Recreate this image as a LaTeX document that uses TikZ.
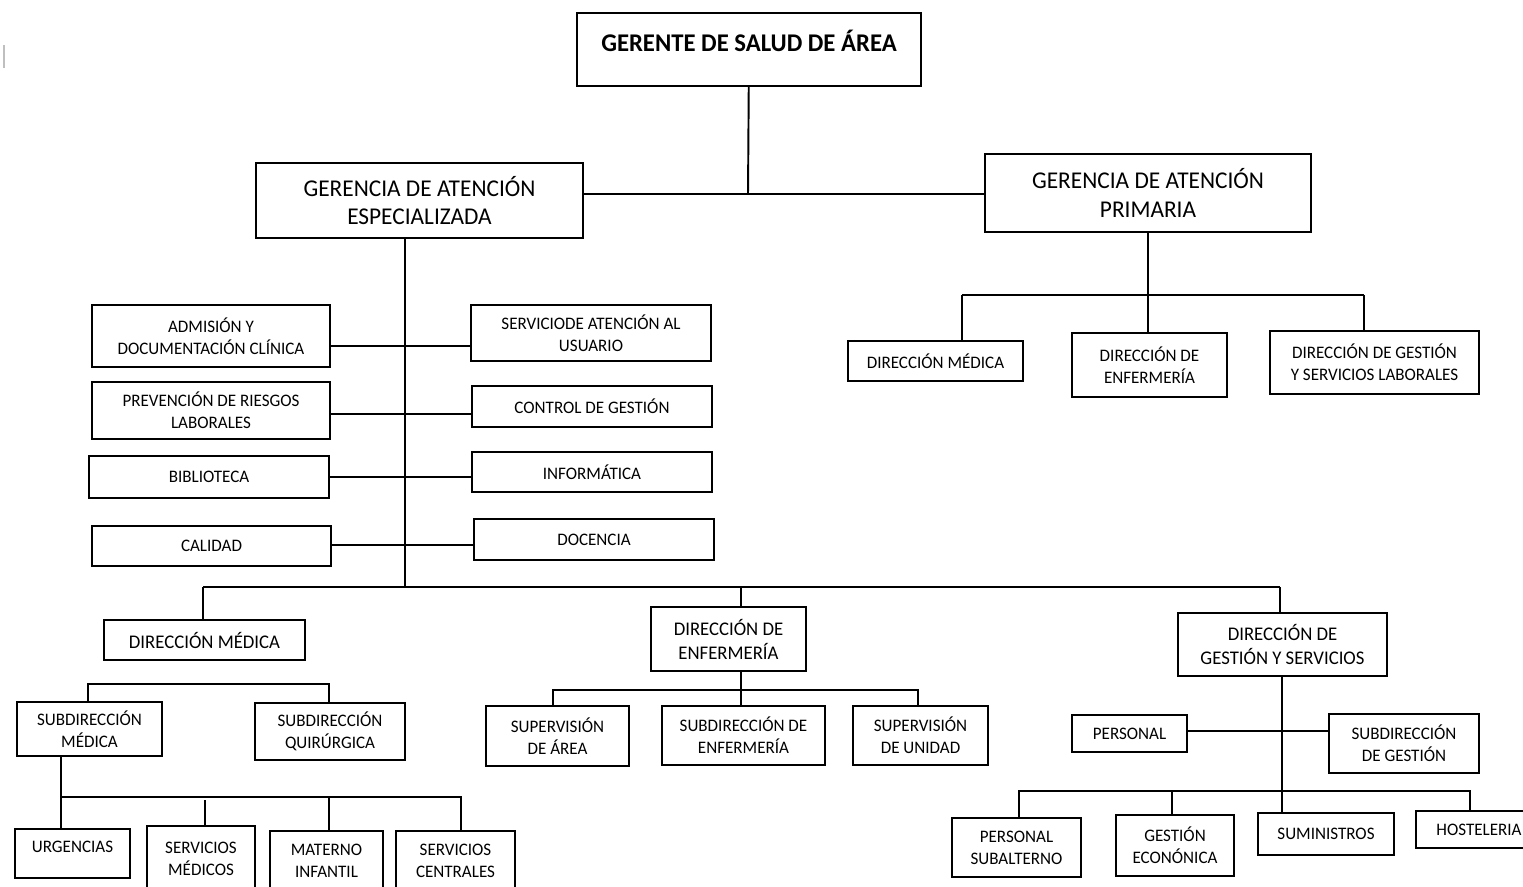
\documentclass[tikz,border=0pt]{standalone}
\usepackage{fontspec}
\setmainfont{Carlito}[FakeStretch=0.97]
\tikzset{
  box/.style={draw, line width=1.1pt, align=center, inner sep=0pt, font=\fontsize{10}{12.5}\selectfont},
  wh/.style 2 args={minimum width=#1*0.02cm, minimum height=#2*0.02cm},
  big/.style={font=\fontsize{13.7}{16.2}\selectfont},
  mid/.style={font=\fontsize{11}{13.6}\selectfont},
  link/.style={line width=1.1pt},
}
\begin{document}
\begin{tikzpicture}[x=0.02cm, y=-0.02cm]
  \useasboundingbox (0,0) rectangle (1523,886);
  \clip (0,0) rectangle (1523,886);
  \draw[black!25, line width=0.6pt] (4,45) -- (4,68);          % stray mark, left edge
  % ---- top levels ----
  \node[box, wh={344}{73}, text depth=0.36cm, font=\fontsize{14.5}{17}\selectfont\bfseries] (ger) at (749,49.5) {GERENTE DE SALUD DE ÁREA};
  \node[box, big, wh={327}{75}] (gae) at (419.5,200.5) {GERENCIA DE ATENCIÓN\\ESPECIALIZADA};
  \node[box, big, wh={326}{78}] (gap) at (1148,193) {GERENCIA DE ATENCIÓN\\PRIMARIA};
  \coordinate (j0) at (748,194);
  \draw[link] (ger) -- (j0);
  \draw[link] (gae.east |- j0) -- (gap.west |- j0);
  % ---- atencion primaria ----
  \node[box, wh={175}{40}] (pdm) at (935.5,361) {DIRECCIÓN MÉDICA};
  \node[box, wh={155}{64}] (pde) at (1149.5,365) {DIRECCIÓN DE\\ENFERMERÍA};
  \node[box, wh={209}{63}] (pgs) at (1374.5,362.5) {DIRECCIÓN DE GESTIÓN\\Y SERVICIOS LABORALES};
  \coordinate (pl) at (962,295);
  \coordinate (pr) at (1364,295);
  \draw[link] (pl) -- (pr);
  \draw[link] (gap.south) -- (gap.south |- pde.north);
  \draw[link] (pl) -- (pl |- pdm.north);
  \draw[link] (pr) -- (pr |- pgs.north);
  % ---- atencion especializada: staff units ----
  \node[box, wh={238}{62}] (adm) at (211,336) {ADMISIÓN Y\\DOCUMENTACIÓN CLÍNICA};
  \node[box, wh={238}{57}] (prv) at (211,410.5) {PREVENCIÓN DE RIESGOS\\LABORALES};
  \node[box, wh={240}{42}] (bib) at (209,477) {BIBLIOTECA};
  \node[box, wh={239}{40}] (cal) at (211.5,546) {CALIDAD};
  \node[box, wh={240}{56}] (srv) at (591,333) {SERVICIODE ATENCIÓN AL\\USUARIO};
  \node[box, wh={240}{41}] (ctl) at (592,406.5) {CONTROL DE GESTIÓN};
  \node[box, wh={240}{40}] (inf) at (592,472) {INFORMÁTICA};
  \node[box, wh={240}{41}] (doc) at (594,539.5) {DOCENCIA};
  \coordinate (et) at (405,587);
  \draw[link] (et |- gae.south) -- (et);
  \foreach \l/\r/\y in {adm/srv/346, prv/ctl/414, bib/inf/477, cal/doc/545}
    \draw[link] (\l.east |- 0,\y) -- (\r.west |- 0,\y);
  % ---- atencion especializada: direcciones ----
  \node[box, mid, wh={201}{40}] (edm) at (204.5,640) {DIRECCIÓN MÉDICA};
  \node[box, mid, wh={155}{64}] (ede) at (728.5,639) {DIRECCIÓN DE\\ENFERMERÍA};
  \node[box, mid, wh={209}{63}] (egs) at (1282.5,644.5) {DIRECCIÓN DE\\GESTIÓN Y SERVICIOS};
  \coordinate (bl) at (203,587);
  \coordinate (bm) at (741,587);
  \coordinate (br) at (1280,587);
  \draw[link] (bl) -- (br);
  \draw[link] (bl) -- (bl |- edm.north);
  \draw[link] (bm) -- (bm |- ede.north);
  \draw[link] (br) -- (br |- egs.north);
  % direccion medica
  \node[box, wh={145}{54}] (smd) at (89.5,729) {SUBDIRECCIÓN\\MÉDICA};
  \node[box, wh={150}{57}] (sqr) at (330,731.5) {SUBDIRECCIÓN\\QUIRÚRGICA};
  \coordinate (dl) at (88,684);
  \coordinate (dr) at (329,684);
  \draw[link] (dl |- smd.north) -- (dl) -- (dr) -- (dr |- sqr.north);
  \node[box, wh={115}{49}, text depth=0.26cm] (urg) at (72.5,853.5) {URGENCIAS};
  \node[box, wh={108}{66}] (svm) at (201,859) {SERVICIOS\\MÉDICOS};
  \node[box, wh={113}{60}] (mat) at (326.5,861) {MATERNO\\INFANTIL};
  \node[box, wh={119}{60}] (svc) at (455.5,861) {SERVICIOS\\CENTRALES};
  \coordinate (ml) at (61,797);
  \coordinate (mr) at (461,797);
  \draw[link] (ml |- smd.south) -- (ml |- urg.north);
  \draw[link] (ml) -- (mr) -- (mr |- svc.north);
  \draw[link] (205,800) -- (205,800 |- svm.north);
  \draw[link] (329,797) -- (329,797 |- mat.north);
  % direccion de enfermeria
  \node[box, wh={143}{60}] (sar) at (557.5,736) {SUPERVISIÓN\\DE ÁREA};
  \node[box, wh={163}{59}] (sen) at (743.5,735.5) {SUBDIRECCIÓN DE\\ENFERMERÍA};
  \node[box, wh={135}{59}] (sun) at (920.5,735.5) {SUPERVISIÓN\\DE UNIDAD};
  \coordinate (nl) at (553,690);
  \coordinate (nr) at (918,690);
  \draw[link] (nl |- sar.north) -- (nl) -- (nr) -- (nr |- sun.north);
  \draw[link] (bm |- ede.south) -- (bm |- sen.north);
  % direccion de gestion y servicios
  \node[box, wh={115}{37}] (per) at (1129.5,733.5) {PERSONAL};
  \node[box, wh={150}{59}] (sge) at (1404,743.5) {SUBDIRECCIÓN\\DE GESTIÓN};
  \node[box, wh={129}{59}] (psb) at (1016.5,847.5) {PERSONAL\\SUBALTERNO};
  \node[box, wh={118}{61}] (gec) at (1175,845.5) {GESTIÓN\\ECONÓNICA};
  \node[box, wh={136}{42}] (sum) at (1326,834) {SUMINISTROS};
  \node[box, wh={126}{37}] (hos) at (1479,829.5) {HOSTELERIA};
  \coordinate (gt) at (1282,791);
  \draw[link] (gt |- egs.south) -- (gt |- sum.north);
  \draw[link] (per.east |- 0,731) -- (sge.west |- 0,731);
  \coordinate (gl) at (1019,791);
  \coordinate (gr) at (1470,791);
  \draw[link] (gl |- psb.north) -- (gl) -- (gr) -- (gr |- hos.north);
  \draw[link] (1172,791) -- (1172,791 |- gec.north);
\end{tikzpicture}
\end{document}
